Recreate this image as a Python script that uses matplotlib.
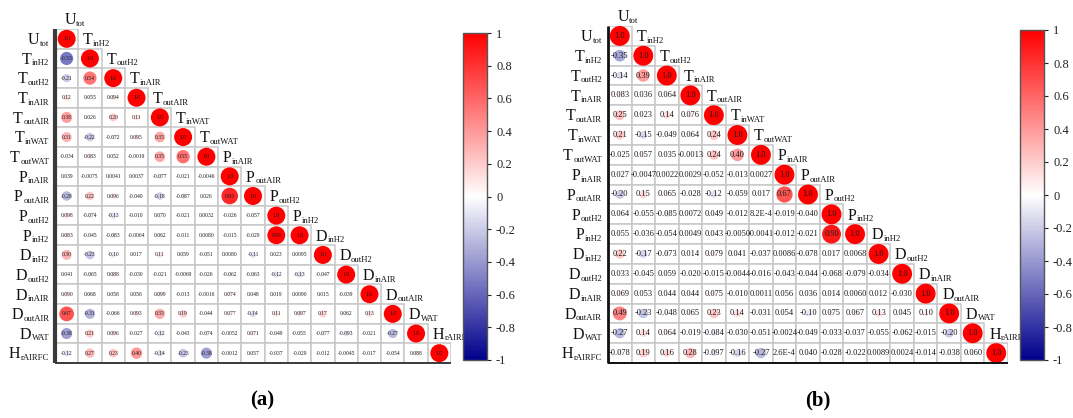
import math
import numpy as np
import matplotlib
matplotlib.use("Agg")
import matplotlib.pyplot as plt
from matplotlib.colors import LinearSegmentedColormap, Normalize
from matplotlib.patches import Rectangle
from matplotlib.colorbar import ColorbarBase

plt.rcParams['font.family'] = ['Liberation Serif', 'DejaVu Serif']

# ---------------- data ----------------
var_main = ["U", "T", "T", "T", "T", "T", "T", "P", "P", "P", "P", "D", "D", "D", "D", "D", "H"]
var_sub = ["tot", "inH2", "outH2", "inAIR", "outAIR", "inWAT", "outWAT", "inAIR", "outAIR",
           "outH2", "inH2", "inH2", "outH2", "inAIR", "outAIR", "WAT", "rAIRFC"]

# lower-triangle rows (off-diagonal values), panel (a)
corr_a = [
    [],
    [-0.53],
    [-0.21, 0.54],
    [0.12, 0.055, 0.094],
    [0.38, 0.026, 0.20, 0.11],
    [0.31, -0.22, -0.072, 0.095, 0.35],
    [-0.034, 0.083, 0.052, -0.0019, 0.35, 0.55],
    [0.039, -0.0075, 0.0041, 0.0037, -0.077, -0.021, -0.0046],
    [-0.28, 0.22, 0.096, -0.040, -0.18, -0.087, 0.026, 0.85],
    [0.098, -0.074, -0.13, -0.010, 0.070, -0.021, 0.0032, -0.026, -0.057],
    [0.083, -0.045, -0.083, -0.0064, 0.062, -0.011, 0.0080, -0.015, -0.029, 0.99],
    [0.30, -0.23, -0.10, 0.017, 0.11, 0.059, -0.051, 0.0080, -0.11, 0.023, 0.0095],
    [0.041, -0.065, 0.088, -0.030, -0.021, -0.0069, -0.026, -0.062, -0.063, -0.12, -0.13, -0.047],
    [0.090, 0.068, 0.058, 0.056, 0.099, -0.013, -0.0016, 0.074, 0.048, 0.019, 0.0090, 0.015, -0.039],
    [0.67, -0.31, -0.066, 0.093, 0.33, 0.19, -0.044, 0.077, -0.14, 0.11, 0.097, 0.17, 0.062, 0.13],
    [-0.38, 0.21, 0.096, -0.027, -0.12, -0.043, -0.074, -0.0052, 0.071, -0.049, -0.055, -0.077,
     -0.093, -0.021, -0.27],
    [-0.12, 0.27, 0.23, 0.40, -0.14, -0.23, -0.38, -0.0012, 0.057, -0.037, -0.029, -0.012,
     -0.0045, -0.017, -0.054, 0.088],
]

# panel (b)
corr_b = [
    [],
    [-0.35],
    [-0.14, 0.39],
    [0.083, 0.036, 0.064],
    [0.25, 0.023, 0.14, 0.076],
    [0.21, -0.15, -0.049, 0.064, 0.24],
    [-0.025, 0.057, 0.035, -0.0013, 0.24, 0.40],
    [0.027, -0.0047, 0.0022, 0.0029, -0.052, -0.013, 0.0027],
    [-0.20, 0.15, 0.065, -0.028, -0.12, -0.059, 0.017, 0.67],
    [0.064, -0.055, -0.085, 0.0072, 0.049, -0.012, 8.2e-4, -0.019, -0.040],
    [0.055, -0.036, -0.054, 0.0049, 0.043, -0.0050, -0.0041, -0.012, -0.021, 0.90],
    [0.22, -0.17, -0.073, 0.014, 0.079, 0.041, -0.037, 0.0086, -0.078, 0.017, 0.0068],
    [0.033, -0.045, 0.059, -0.020, -0.015, -0.0044, -0.016, -0.043, -0.044, -0.068, -0.079, -0.034],
    [0.069, 0.053, 0.044, 0.044, 0.075, -0.010, 0.0011, 0.056, 0.036, 0.014, 0.0060, 0.012, -0.030],
    [0.49, -0.23, -0.048, 0.065, 0.23, 0.14, -0.031, 0.054, -0.10, 0.075, 0.067, 0.13, 0.045, 0.10],
    [-0.27, 0.14, 0.064, -0.019, -0.084, -0.030, -0.051, -0.0024, -0.049, -0.033, -0.037, -0.055,
     -0.062, -0.015, -0.20],
    [-0.078, 0.19, 0.16, 0.28, -0.097, -0.16, -0.27, 2.6e-4, 0.040, -0.028, -0.022, 0.0089,
     0.0024, -0.014, -0.038, 0.060],
]

cbar_ticks = [1, 0.8, 0.6, 0.4, 0.2, 0, -0.2, -0.4, -0.6, -0.8, -1]
panel_titles = ["(a)", "(b)"]

cmap = LinearSegmentedColormap.from_list("rwb", ["#00008c", "#ffffff", "#ff0000"])
norm = Normalize(-1, 1)


def fmt(v):
    if v == 1:
        return "1.0"
    a = abs(v)
    if a < 0.001:
        m, e = f"{a:.1e}".split("e")
        s = f"{m}E{int(e)}"
    else:
        d = 1 - math.floor(math.log10(a) + 1e-12)
        s = f"{a:.{d}f}"
    return ("-" if v < 0 else "") + s


W, H = 1073, 418
fig = plt.figure(figsize=(W / 100, H / 100), dpi=100)
renderer = fig.canvas.get_renderer()

MAIN_FS = 11.5
SUB_FS = 6.2
BASE_OFF = -0.33 * MAIN_FS   # baseline offset (points) so the capital is centred
SUB_OFF = -1.2               # subscript baseline drop (points)
TXT_COL = "#111111"


def text_width_pt(s, fs):
    t = fig.text(0, 0, s, fontsize=fs)
    w = t.get_window_extent(renderer).width * 72.0 / fig.dpi
    t.remove()
    return w


def label_right(ax, x, y, main, sub):
    ws = text_width_pt(sub, SUB_FS)
    ax.annotate(sub, xy=(x, y), xytext=(0, BASE_OFF + SUB_OFF), textcoords="offset points",
                ha="right", va="baseline", fontsize=SUB_FS, color=TXT_COL,
                annotation_clip=False)
    ax.annotate(main, xy=(x, y), xytext=(-ws - 0.3, BASE_OFF), textcoords="offset points",
                ha="right", va="baseline", fontsize=MAIN_FS, color=TXT_COL,
                annotation_clip=False)


def label_left(ax, x, y, main, sub):
    wm = text_width_pt(main, MAIN_FS)
    ax.annotate(main, xy=(x, y), xytext=(0, BASE_OFF), textcoords="offset points",
                ha="left", va="baseline", fontsize=MAIN_FS, color=TXT_COL,
                annotation_clip=False)
    ax.annotate(sub, xy=(x, y), xytext=(wm + 0.3, BASE_OFF + SUB_OFF),
                textcoords="offset points", ha="left", va="baseline", fontsize=SUB_FS,
                color=TXT_COL, annotation_clip=False)


def px_axes(x0, x1, y0, y1):
    return fig.add_axes([x0 / W, (H - y1) / H, (x1 - x0) / W, (y1 - y0) / H])


def draw_panel(ax, rows, num_fs, smax, left_lw, left_col):
    n = len(var_main)
    ax.set_xlim(0, n)
    ax.set_ylim(n, 0)
    ax.axis("off")
    xs, ys, vals = [], [], []
    for i in range(n):
        full = list(rows[i]) + [1.0]
        for j, v in enumerate(full):
            ax.add_patch(Rectangle((j, i), 1, 1, facecolor="white", edgecolor="#c8c8c8",
                                   lw=1.1, zorder=1))
            xs.append(j + 0.5)
            ys.append(i + 0.5)
            vals.append(v)
    vals = np.array(vals)
    ax.scatter(xs, ys, s=smax * np.abs(vals), c=vals, cmap=cmap, norm=norm,
               linewidths=0, zorder=2, clip_on=False)
    for x, y, v in zip(xs, ys, vals):
        ax.text(x, y, fmt(v), ha="center", va="center", fontsize=num_fs,
                color="#1a1a1a", zorder=3, clip_on=False)
    ax.plot([0, 0], [0, n], color=left_col, lw=left_lw, zorder=4, clip_on=False,
            solid_capstyle="butt")
    ax.plot([0, n], [n, n], color=left_col, lw=1.4, zorder=4, clip_on=False,
            solid_capstyle="butt")
    for i in range(n):
        label_right(ax, -0.25, i + 0.5, var_main[i], var_sub[i])
        dx = 0.4 if i == 0 else 0.2
        label_left(ax, i + dx, i - 0.5, var_main[i], var_sub[i])


ax_a = px_axes(55, 451, 29, 363)
draw_panel(ax_a, corr_a, 4.0, 168, 3.0, "#3a3a3a")
ax_b = px_axes(608, 1008, 26, 363)
draw_panel(ax_b, corr_b, 6.0, 205, 2.0, "#111111")

for (x0, x1, y0, y1) in [(463, 487, 33, 360), (1020, 1044, 30, 360)]:
    cax = px_axes(x0, x1, y0, y1)
    cb = ColorbarBase(cax, cmap=cmap, norm=norm, orientation="vertical")
    cb.set_ticks(cbar_ticks)
    cb.set_ticklabels([("%g" % t) for t in cbar_ticks])
    cb.outline.set_edgecolor("#555555")
    cb.outline.set_linewidth(1.0)
    cax.tick_params(labelsize=9, length=3, width=0.8, colors="#222222")

fig.text(262 / W, 1 - 400 / H, panel_titles[0], ha="center", va="center",
         fontsize=15, fontweight="bold")
fig.text(818 / W, 1 - 400 / H, panel_titles[1], ha="center", va="center",
         fontsize=15, fontweight="bold")

fig.savefig("out.png", dpi=100)
